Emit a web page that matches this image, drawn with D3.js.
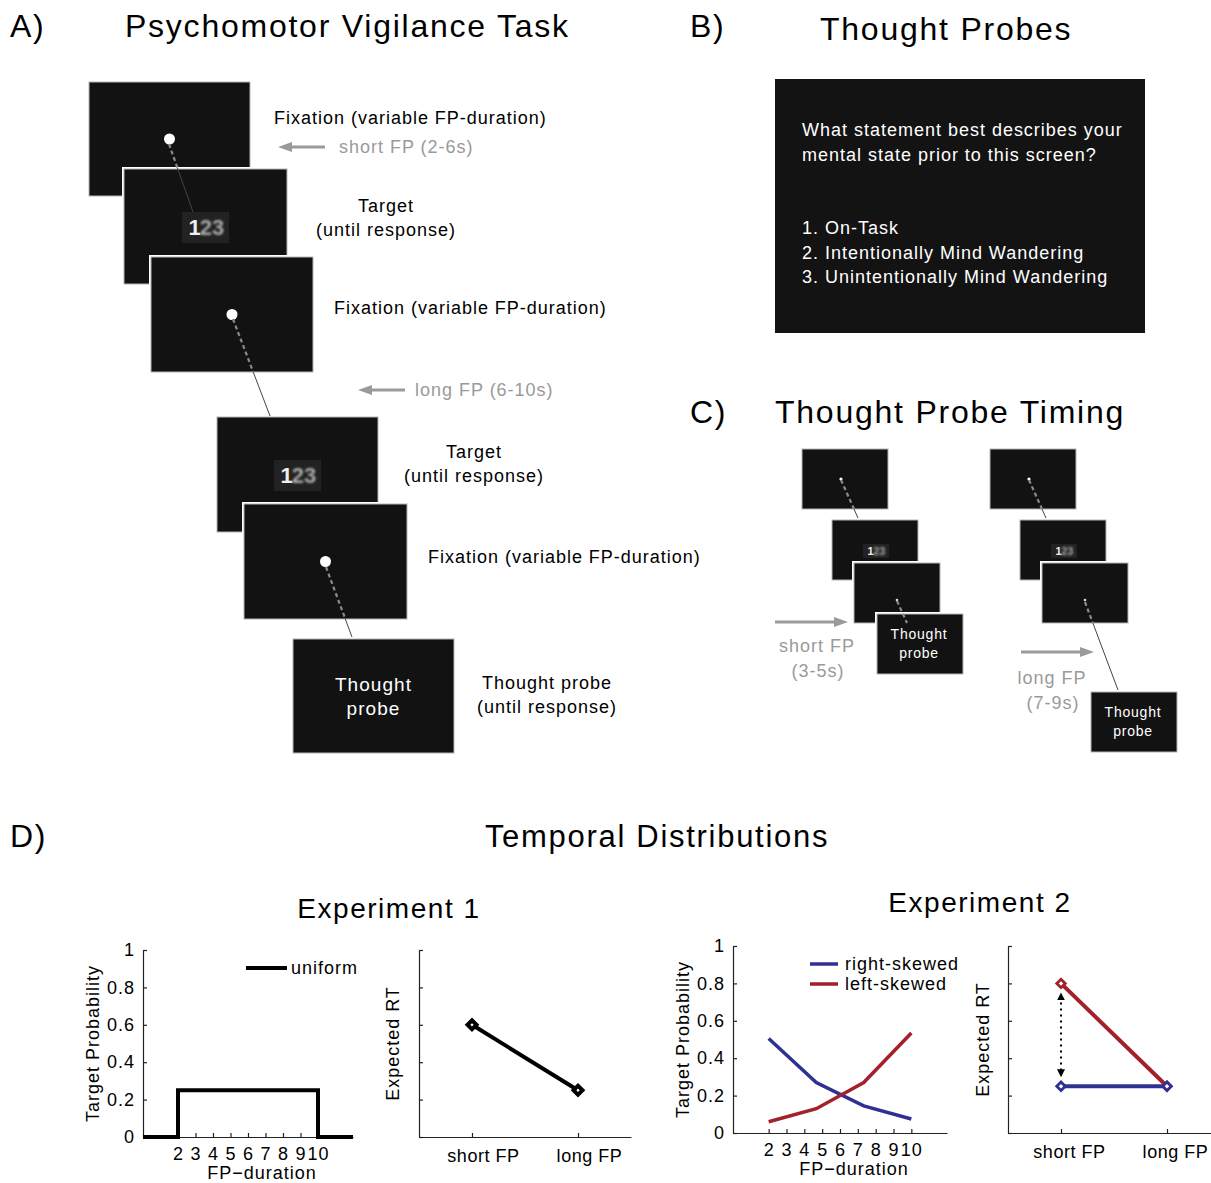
<!DOCTYPE html>
<html>
<head>
<meta charset="utf-8">
<script src="https://cdn.jsdelivr.net/npm/d3@7"></script>
<style>
body { margin: 0; background: #fff; }
svg text { font-family: "Liberation Sans", Arial, Helvetica, sans-serif; letter-spacing: 0.055em; }
</style>
</head>
<body>
<div id="chart"></div>
<script>
// values
var fpTicks = [2, 3, 4, 5, 6, 7, 8, 9, 10];
var probTicks = [0, 0.2, 0.4, 0.6, 0.8, 1];
var uniformFP = [0, 2, 2, 10, 10, 12];
var uniformProb = [0, 0, 0.25, 0.25, 0, 0];
var skewFP = [2, 4.67, 7.33, 10];
var rightSkewProb = [0.505, 0.27, 0.145, 0.075];
var leftSkewProb = [0.06, 0.13, 0.27, 0.535];
var fpConditions = ["short FP", "long FP"];
var exp1RT = [0.6, 0.25];
var exp2RightRT = [0.25, 0.25];
var exp2LeftRT = [0.8, 0.25];
var probeQuestion = ["What statement best describes your", "mental state prior to this screen?"];
var probeOptions = ["1. On-Task", "2. Intentionally Mind Wandering", "3. Unintentionally Mind Wandering"];

var blue = "#2E3192", red = "#A3212A", grey = "#9a9a9a", screenFill = "#121212";

var svg = d3.select("#chart").append("svg")
    .attr("width", 1211)
    .attr("height", 1183);

var defs = svg.append("defs");
defs.append("filter").attr("id", "blur")
    .append("feGaussianBlur").attr("stdDeviation", 0.9);
defs.append("marker")
    .attr("id", "tip")
    .attr("viewBox", "0 0 10 10")
    .attr("refX", 5).attr("refY", 5)
    .attr("markerWidth", 4).attr("markerHeight", 4)
    .attr("markerUnits", "strokeWidth")
    .attr("orient", "auto-start-reverse")
    .append("path").attr("d", "M0,0L10,5L0,10Z").attr("fill", "#000");

function label(parent, txt, x, y, size, opts) {
    opts = opts || {};
    return parent.append("text")
        .attr("x", x).attr("y", y)
        .attr("dy", "0.35em")
        .attr("text-anchor", opts.anchor || "start")
        .attr("fill", opts.fill || "#000")
        .style("font-size", size + "px")
        .text(txt);
}

// a black "screen" with the thin grey outline and white gap
function drawScreen(parent, s) {
    parent.append("rect")
        .attr("x", s.x - 2).attr("y", s.y - 2)
        .attr("width", s.w + 4).attr("height", s.h + 4)
        .attr("fill", "#fff");
    parent.append("rect")
        .attr("x", s.x).attr("y", s.y)
        .attr("width", s.w).attr("height", s.h)
        .attr("fill", screenFill)
        .attr("stroke", "#b5b5b5").attr("stroke-width", 1);
}

function drawTarget(parent, cx, cy, w, h, size) {
    parent.append("rect")
        .attr("x", cx - w / 2).attr("y", cy - h / 2)
        .attr("width", w).attr("height", h)
        .attr("fill", "#222");
    parent.append("text")
        .attr("x", cx - size * 0.5).attr("y", cy).attr("dy", "0.36em")
        .attr("text-anchor", "middle").attr("fill", "#eee")
        .style("font-size", size + "px").style("font-weight", "bold")
        .style("letter-spacing", "0")
        .text("1");
    parent.append("text")
        .attr("x", cx + size * 0.3).attr("y", cy).attr("dy", "0.36em")
        .attr("text-anchor", "middle").attr("fill", "#aaa")
        .attr("filter", "url(#blur)")
        .style("font-size", size + "px").style("font-weight", "bold")
        .style("letter-spacing", "0")
        .text("23");
}

// dashed part while on the fixation screen, thin solid line after it
function drawLink(parent, x0, y0, x1, y1, ySplit) {
    var t = (ySplit - y0) / (y1 - y0);
    var xs = x0 + t * (x1 - x0);
    parent.append("line")
        .attr("x1", x0).attr("y1", y0).attr("x2", xs).attr("y2", ySplit)
        .attr("stroke", "#8a8a8a").attr("stroke-width", 2.2)
        .attr("stroke-dasharray", "4,3");
    if (t < 1) {
        parent.append("line")
            .attr("x1", xs).attr("y1", ySplit).attr("x2", x1).attr("y2", y1)
            .attr("stroke", "#444").attr("stroke-width", 1);
    }
}

function greyArrow(parent, xFrom, xTo, y) {
    var dir = xTo > xFrom ? 1 : -1;
    parent.append("line")
        .attr("x1", xFrom).attr("y1", y).attr("x2", xTo - dir * 10).attr("y2", y)
        .attr("stroke", grey).attr("stroke-width", 3);
    parent.append("path")
        .attr("d", d3.line()([[xTo, y], [xTo - dir * 14, y - 5], [xTo - dir * 14, y + 5]]) + "Z")
        .attr("fill", grey);
}

// ---------- Panel A ----------
var pA = svg.append("g");
label(pA, "A)", 10, 26, 32);
label(pA, "Psychomotor Vigilance Task", 125, 26, 32);

var screensA = [
    {x: 89, y: 82, w: 161, h: 114, type: "fix"},
    {x: 124, y: 169, w: 163, h: 115, type: "target"},
    {x: 151, y: 257, w: 162, h: 115, type: "fix"},
    {x: 217, y: 417, w: 161, h: 115, type: "target"},
    {x: 244, y: 504, w: 163, h: 115, type: "fix"},
    {x: 293, y: 639, w: 161, h: 114, type: "probe"}
];
screensA.forEach(function (s) {
    drawScreen(pA, s);
    var cx = s.x + s.w / 2, cy = s.y + s.h / 2;
    if (s.type === "fix") {
        pA.append("circle").attr("cx", cx).attr("cy", cy).attr("r", 5.5).attr("fill", "#fff");
    } else if (s.type === "target") {
        drawTarget(pA, cx, cy + 1, 47, 31, 22);
    } else {
        label(pA, "Thought", cx, cy - 12, 19, {anchor: "middle", fill: "#fff"});
        label(pA, "probe", cx, cy + 12, 19, {anchor: "middle", fill: "#fff"});
    }
});
drawLink(pA, 169, 144, 193, 212, 168);
drawLink(pA, 233, 319, 270, 416, 372);
drawLink(pA, 326, 567, 352, 637, 619);

label(pA, "Fixation (variable FP-duration)", 274, 118, 18);
greyArrow(pA, 325, 278, 147);
label(pA, "short FP (2-6s)", 339, 147, 18, {fill: grey});
label(pA, "Target", 386, 206, 18, {anchor: "middle"});
label(pA, "(until response)", 386, 230, 18, {anchor: "middle"});
label(pA, "Fixation (variable FP-duration)", 334, 308, 18);
greyArrow(pA, 405, 358, 390);
label(pA, "long FP (6-10s)", 415, 390, 18, {fill: grey});
label(pA, "Target", 474, 452, 18, {anchor: "middle"});
label(pA, "(until response)", 474, 476, 18, {anchor: "middle"});
label(pA, "Fixation (variable FP-duration)", 428, 557, 18);
label(pA, "Thought probe", 547, 683, 18, {anchor: "middle"});
label(pA, "(until response)", 547, 707, 18, {anchor: "middle"});

// ---------- Panel B ----------
var pB = svg.append("g");
label(pB, "B)", 690, 26, 32);
label(pB, "Thought Probes", 820, 29, 32);
pB.append("rect")
    .attr("x", 775).attr("y", 79).attr("width", 370).attr("height", 254)
    .attr("fill", "#131313");
probeQuestion.forEach(function (t, i) {
    label(pB, t, 802, 130 + i * 25, 18, {fill: "#fff"});
});
probeOptions.forEach(function (t, i) {
    label(pB, t, 802, 228 + i * 24.5, 18, {fill: "#fff"});
});

// ---------- Panel C ----------
var pC = svg.append("g");
label(pC, "C)", 690, 412, 32);
label(pC, "Thought Probe Timing", 775, 412, 32);

var timelines = [
    {screens: [[802, 449], [832, 520], [854, 563], [877, 614]],
     links: [[841, 480, 858, 518, 509], [897, 601, 902, 612, 623]],
     arrow: [775, 848, 622], text: ["short FP", "(3-5s)"], tx: 817, ty: 646},
    {screens: [[990, 449], [1020, 520], [1042, 563], [1091, 692]],
     links: [[1029, 480, 1046, 518, 509], [1085, 602, 1118, 690, 623]],
     arrow: [1021, 1094, 652], text: ["long FP", "(7-9s)"], tx: 1052, ty: 678}
];
timelines.forEach(function (tl) {
    tl.screens.forEach(function (p, i) {
        var s = {x: p[0], y: p[1], w: 86, h: 60};
        drawScreen(pC, s);
        if (i === 0) {
            pC.append("circle").attr("cx", s.x + 39).attr("cy", s.y + 30).attr("r", 1.6).attr("fill", "#fff");
        } else if (i === 1) {
            drawTarget(pC, s.x + 44, s.y + 31, 26, 14, 11);
        } else if (i === 2) {
            pC.append("circle").attr("cx", s.x + 43).attr("cy", s.y + 37).attr("r", 1.3).attr("fill", "#ddd");
        } else {
            label(pC, "Thought", s.x + 42, s.y + 20, 14, {anchor: "middle", fill: "#fff"});
            label(pC, "probe", s.x + 42, s.y + 39, 14, {anchor: "middle", fill: "#fff"});
        }
    });
    tl.links.forEach(function (l) { drawLink(pC, l[0], l[1], l[2], l[3], l[4]); });
    greyArrow(pC, tl.arrow[0], tl.arrow[1], tl.arrow[2]);
    label(pC, tl.text[0], tl.tx, tl.ty, 18, {anchor: "middle", fill: grey});
    label(pC, tl.text[1], tl.tx + 1, tl.ty + 25, 18, {anchor: "middle", fill: grey});
});

// ---------- Panel D ----------
var pD = svg.append("g");
label(pD, "D)", 10, 836, 32);
label(pD, "Temporal Distributions", 657, 836, 31, {anchor: "middle"});
label(pD, "Experiment 1", 389, 908, 28, {anchor: "middle"});
label(pD, "Experiment 2", 980, 902, 28, {anchor: "middle"});

function styleAxis(g) {
    g.select(".domain").attr("stroke", "#222").attr("stroke-width", 1.2);
    g.selectAll(".tick line").attr("stroke", "#222").attr("stroke-width", 1.2);
    g.selectAll(".tick text").style("font-size", "18px").attr("fill", "#000")
        .style("font-family", "'Liberation Sans', Arial, sans-serif");
}

function probAxes(x, y, xLabelY, yLabelX) {
    var gy = pD.append("g")
        .attr("transform", "translate(" + x.range()[0] + ",0)")
        .call(d3.axisLeft(y).tickValues(probTicks)
            .tickFormat(function (d) { return (d === 0 || d === 1) ? d : d3.format(".1f")(d); })
            .tickSizeInner(-4).tickSizeOuter(0).tickPadding(8));
    styleAxis(gy);
    var gx = pD.append("g")
        .attr("transform", "translate(0," + y.range()[0] + ")")
        .call(d3.axisBottom(x).tickValues(fpTicks).tickFormat(d3.format("d"))
            .tickSizeInner(-4).tickSizeOuter(0).tickPadding(10));
    styleAxis(gx);
    label(pD, "FP\u2212duration", (x(2) + x(10)) / 2 + 14, xLabelY, 18, {anchor: "middle"});
    pD.append("text")
        .attr("transform", "translate(" + yLabelX + "," + (y(0.5)) + ") rotate(-90)")
        .attr("text-anchor", "middle").attr("dy", "0.35em")
        .style("font-size", "18px")
        .text("Target Probability");
}

function rtAxes(x, y, yLabelX, shift) {
    var gy = pD.append("g")
        .attr("transform", "translate(" + x.range()[0] + ",0)")
        .call(d3.axisLeft(y).tickValues(probTicks).tickFormat("")
            .tickSizeInner(-4).tickSizeOuter(0));
    styleAxis(gy);
    var gx = pD.append("g")
        .attr("transform", "translate(0," + y.range()[0] + ")")
        .call(d3.axisBottom(x).tickValues([1, 2])
            .tickFormat(function (d) { return fpConditions[d - 1]; })
            .tickSizeInner(-4).tickSizeOuter(0).tickPadding(12));
    styleAxis(gx);
    gx.selectAll(".tick text").attr("dx", shift).style("letter-spacing", "0.03em");
    pD.append("text")
        .attr("transform", "translate(" + yLabelX + "," + (y(0.5)) + ") rotate(-90)")
        .attr("text-anchor", "middle").attr("dy", "0.35em")
        .style("font-size", "18px")
        .text("Expected RT");
}

var diamond = d3.symbol().type(d3.symbolSquare);

function rtSeries(x, y, values, color) {
    var line = d3.line().x(function (d, i) { return x(i + 1); }).y(function (d) { return y(d); });
    pD.append("path").datum(values)
        .attr("d", line)
        .attr("fill", "none").attr("stroke", color).attr("stroke-width", 4);
}
function rtMarkers(x, y, values, color, sw, area) {
    pD.append("g").selectAll("path")
        .data(values).enter().append("path")
        .attr("d", diamond.size(area))
        .attr("transform", function (d, i) { return "translate(" + x(i + 1) + "," + y(d) + ") rotate(45)"; })
        .attr("fill", "#fff").attr("stroke", color).attr("stroke-width", sw);
}

// Experiment 1: uniform distribution
var x1 = d3.scaleLinear().domain([0, 12]).range([143, 353]);
var y1 = d3.scaleLinear().domain([0, 1]).range([1137, 950]);
probAxes(x1, y1, 1173, 93);
pD.append("path")
    .datum(uniformFP.map(function (d, i) { return [d, uniformProb[i]]; }))
    .attr("d", d3.line().x(function (d) { return x1(d[0]); }).y(function (d) { return y1(d[1]); }))
    .attr("fill", "none").attr("stroke", "#000").attr("stroke-width", 4);
pD.append("line").attr("x1", 246).attr("x2", 287).attr("y1", 968).attr("y2", 968)
    .attr("stroke", "#000").attr("stroke-width", 4);
label(pD, "uniform", 291, 968, 18);

var x1b = d3.scaleLinear().domain([0.5, 2.5]).range([419, 631]);
rtAxes(x1b, y1, 393, 11);
rtSeries(x1b, y1, exp1RT, "#000");
rtMarkers(x1b, y1, exp1RT, "#000", 4, 40);

// Experiment 2: skewed distributions
var x2 = d3.scaleLinear().domain([0, 12]).range([733, 947]);
var y2 = d3.scaleLinear().domain([0, 1]).range([1133, 946]);
probAxes(x2, y2, 1169, 683);
var skewLine = d3.line().x(function (d, i) { return x2(skewFP[i]); }).y(function (d) { return y2(d); });
pD.append("path").datum(rightSkewProb).attr("d", skewLine)
    .attr("fill", "none").attr("stroke", blue).attr("stroke-width", 3.5);
pD.append("path").datum(leftSkewProb).attr("d", skewLine)
    .attr("fill", "none").attr("stroke", red).attr("stroke-width", 3.5);
pD.append("line").attr("x1", 810).attr("x2", 838).attr("y1", 964).attr("y2", 964)
    .attr("stroke", blue).attr("stroke-width", 3.5);
label(pD, "right-skewed", 845, 964, 18);
pD.append("line").attr("x1", 810).attr("x2", 838).attr("y1", 984).attr("y2", 984)
    .attr("stroke", red).attr("stroke-width", 3.5);
label(pD, "left-skewed", 845, 984, 18);

var x2b = d3.scaleLinear().domain([0.5, 2.5]).range([1008, 1220]);
rtAxes(x2b, y2, 983, 8);
rtSeries(x2b, y2, exp2LeftRT, red);
rtSeries(x2b, y2, exp2RightRT, blue);
rtMarkers(x2b, y2, exp2LeftRT, red, 2.8, 36);
rtMarkers(x2b, y2, exp2RightRT, blue, 2.8, 36);
pD.append("line")
    .attr("x1", x2b(1)).attr("x2", x2b(1))
    .attr("y1", y2(exp2LeftRT[0]) + 13).attr("y2", y2(exp2RightRT[0]) - 13)
    .attr("stroke", "#000").attr("stroke-width", 2)
    .attr("stroke-dasharray", "2,4")
    .attr("marker-start", "url(#tip)").attr("marker-end", "url(#tip)");
</script>
</body>
</html>
